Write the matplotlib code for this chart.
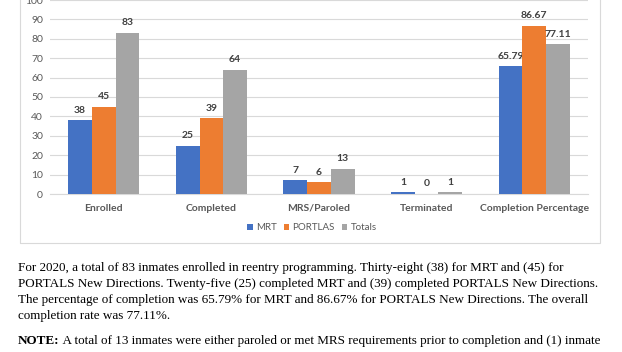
import matplotlib
matplotlib.use("Agg")
import matplotlib.pyplot as plt
from matplotlib.patches import Rectangle
import numpy as np

categories = ["Enrolled", "Completed", "MRS/Paroled", "Terminated", "Completion Percentage"]
mrt = [38, 25, 7, 1, 65.79]
portlas = [45, 39, 6, 0, 86.67]
totals = [83, 64, 13, 1, 77.11]
series_names = ["MRT", "PORTLAS", "Totals"]
colors = ["#4472C4", "#ED7D31", "#A5A5A5"]
yticks = [0, 10, 20, 30, 40, 50, 60, 70, 80, 90, 100]

paragraph = [
    "For 2020, a total of 83 inmates enrolled in reentry programming. Thirty-eight (38) for MRT and (45) for",
    "PORTALS New Directions. Twenty-five (25) completed MRT and (39) completed PORTALS New Directions.",
    "The percentage of completion was 65.79% for MRT and 86.67% for PORTALS New Directions. The overall",
    "completion rate was 77.11%.",
]
note_bold = "NOTE:"
note_rest = " A total of 13 inmates were either paroled or met MRS requirements prior to completion and (1) inmate"

W, H = 622, 352
fig = plt.figure(figsize=(W / 100, H / 100), dpi=100)
fig.patch.set_facecolor("white")

def fx(px):
    return px / W

def fy(py):
    return 1 - py / H

# chart frame
frame = Rectangle((fx(20), fy(243)), fx(600) - fx(20), fy(-20) - fy(243),
                  transform=fig.transFigure, fill=False, edgecolor="#D9D9D9", linewidth=0.8)
fig.patches.append(frame)

ax = fig.add_axes([fx(50), fy(194), fx(588) - fx(50), fy(0) - fy(194)])
chart_font = "Lato"
x = np.arange(len(categories))
bw = 0.22
for i, (vals, name, c) in enumerate(zip([mrt, portlas, totals], series_names, colors)):
    bars = ax.bar(x + (i - 1) * bw, vals, bw, color=c, label=name, zorder=3)
    for b, v in zip(bars, vals):
        lbl = f"{v:.2f}" if v % 1 else f"{int(v)}"
        ax.annotate(lbl, (b.get_x() + b.get_width() / 2, b.get_height()),
                    xytext=(0, 4), textcoords="offset points", ha="center", va="bottom",
                    fontsize=7.5, fontweight="bold", color="#404040", family=chart_font)

ax.set_ylim(0, 100)
ax.set_xlim(-0.5, len(categories) - 0.5)
ax.set_yticks(yticks)
ax.yaxis.grid(True, color="#D9D9D9", linewidth=0.8, zorder=0)
ax.set_axisbelow(True)
for s in ["top", "right", "left"]:
    ax.spines[s].set_visible(False)
ax.spines["bottom"].set_color("#D9D9D9")
ax.spines["bottom"].set_linewidth(0.8)
ax.tick_params(axis="both", length=0, colors="#595959", labelsize=7.5)
ax.tick_params(axis="y", pad=5)
ax.tick_params(axis="x", pad=7)
ax.set_xticks(x)
ax.set_xticklabels(categories, fontweight="bold", family=chart_font, fontsize=7.5)
for t in ax.get_yticklabels():
    t.set_family(chart_font)

leg = fig.legend(loc="center", bbox_to_anchor=(fx(312), fy(228)), ncol=3, frameon=False,
                 prop={"family": chart_font, "size": 7}, handlelength=0.55, handleheight=0.55,
                 handletextpad=0.35, columnspacing=0.7, labelcolor="#595959")

serif = "Liberation Serif"
fs = 9.45
ys = [268, 284, 300, 316]
for line, yy in zip(paragraph, ys):
    fig.text(fx(18), fy(yy), line, family=serif, fontsize=fs, va="center", ha="left", color="black")

t1 = fig.text(fx(18), fy(341), note_bold, family=serif, fontsize=fs, fontweight="bold", va="center", ha="left")
fig.canvas.draw()
bb = t1.get_window_extent()
fig.text(bb.x1 / W, fy(341), note_rest, family=serif, fontsize=fs, va="center", ha="left")

fig.savefig("out.png", dpi=100, facecolor="white")
